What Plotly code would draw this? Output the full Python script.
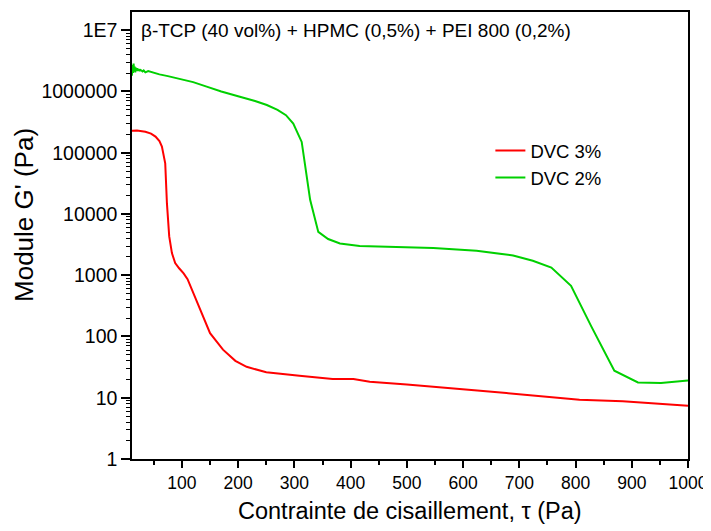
import plotly.graph_objects as go

# DVC 3% (red)
x_dvc3 = [11, 20, 35, 45, 53, 60, 64.4, 68, 70.3, 73.3, 77.4, 82.2, 88, 95, 103, 110,
          124, 137, 150, 173, 195, 215, 250, 309, 368, 405, 434, 500, 570, 620, 677,
          760, 807, 884, 950, 1000]
y_dvc3 = [2.29e5, 2.3e5, 2.2e5, 2.05e5, 1.83e5, 1.55e5, 1.26e5, 9.0e4, 6.7e4, 1.5e4,
          4.3e3, 2.3e3, 1.58e3, 1.3e3, 1.07e3, 860, 425, 210, 113, 61, 40, 32, 26, 22.8,
          20.2, 20.2, 18.2, 16.5, 14.7, 13.2, 11.9, 10.1, 9.3, 8.8, 8.1, 7.4]

# DVC 2% (green)
x_dvc2 = [11, 12, 13, 14, 15, 16, 17, 18, 19, 20, 21, 22, 23, 24, 25, 26, 28, 30, 32,
          35, 40, 50, 60, 75, 90, 100, 120, 144, 170, 203, 230, 251, 270, 285, 298,
          313, 328, 342.5, 360, 381, 416, 547, 624, 689, 724, 757, 792, 828, 869, 911,
          952, 1000]
y_dvc2 = [1.8e6, 2.7e6, 2.0e6, 2.85e6, 2.2e6, 2.55e6, 2.05e6, 2.45e6, 2.2e6, 2.4e6,
          2.15e6, 2.35e6, 2.2e6, 2.3e6, 2.15e6, 2.25e6, 2.2e6, 2.12e6, 2.2e6, 2.05e6,
          2.15e6, 2.0e6, 1.9e6, 1.78e6, 1.64e6, 1.58e6, 1.42e6, 1.2e6, 1.0e6, 8.2e5,
          7.0e5, 6.0e5, 5.0e5, 4.1e5, 3.0e5, 1.5e5, 1.7e4, 5.1e3, 3.9e3, 3.3e3, 3.0e3,
          2.77e3, 2.5e3, 2.1e3, 1.72e3, 1.336e3, 671, 146, 27.6, 17.8, 17.4, 19.2]

y_tickvals = [1, 10, 100, 1000, 10000, 100000, 1000000, 10000000]
y_ticktext = ["1", "10", "100", "1000", "10000", "100000", "1000000", "1E7"]
x_tickvals = [100, 200, 300, 400, 500, 600, 700, 800, 900, 1000]
x_minor = [50, 150, 250, 350, 450, 550, 650, 750, 850, 950]

title_text = "β-TCP (40 vol%) + HPMC (0,5%) + PEI 800 (0,2%)"
x_title = "Contrainte de cisaillement, τ (Pa)"
y_title = "Module G' (Pa)"

FONT = "Liberation Sans, Arial, sans-serif"

# The page body has an 8 px default margin, so the figure is drawn 8 px in.
OFF = 8
W, H = 711 - OFF, 531 - OFF
L, T = 132 - OFF, 12 - OFF
R = W - (688.5 - OFF)
B = H - (459.3 - OFF)
PW = W - L - R
PH = H - T - B


def px_x(p):
    return (p - OFF - L) / PW


def px_y(p):
    return (H - B - (p - OFF)) / PH


y_minor = []
for k in range(0, 8):
    for d in range(2, 10):
        v = d * 10 ** k
        if v < 2e7:
            y_minor.append(v)

fig = go.Figure()
fig.add_trace(go.Scatter(x=x_dvc3, y=y_dvc3, mode="lines", name="DVC 3%",
                         line=dict(color="#FF0000", width=2)))
fig.add_trace(go.Scatter(x=x_dvc2, y=y_dvc2, mode="lines", name="DVC 2%",
                         line=dict(color="#00D000", width=2)))

fig.update_layout(
    width=W, height=H,
    margin=dict(l=L, r=R, t=T, b=B, autoexpand=False),
    paper_bgcolor="white", plot_bgcolor="white",
    font=dict(family=FONT, color="black"),
    showlegend=True,
    legend=dict(x=px_x(490.7), y=px_y(132), xanchor="left", yanchor="top",
                bgcolor="rgba(0,0,0,0)", font=dict(size=18.5, family=FONT),
                borderwidth=0),
    xaxis=dict(
        range=[11.2, 1000], showline=True, linecolor="black", linewidth=1.5,
        mirror=True, showgrid=False, zeroline=False,
        tickmode="array", tickvals=x_tickvals, ticks="outside", ticklen=7,
        tickwidth=1.5, tickcolor="black", tickfont=dict(size=17.5, family=FONT),
        minor=dict(tickmode="array", tickvals=x_minor, ticks="outside", ticklen=4,
                   tickwidth=1.5, tickcolor="black", showgrid=False),
    ),
    yaxis=dict(
        type="log", range=[0, 7.297], showline=True, linecolor="black", linewidth=1.5,
        mirror=True, showgrid=False, zeroline=False,
        tickmode="array", tickvals=y_tickvals, ticktext=y_ticktext, ticks="outside",
        ticklen=9, tickwidth=1.5, tickcolor="black", tickfont=dict(size=19.5, family=FONT),
        minor=dict(tickmode="array", tickvals=y_minor, ticks="outside", ticklen=4,
                   tickwidth=1, tickcolor="black", showgrid=False),
    ),
    annotations=[
        dict(text=title_text, xref="paper", yref="paper", x=px_x(139),
             y=px_y(31), xanchor="left", yanchor="middle", showarrow=False,
             font=dict(size=19, family=FONT)),
        dict(text=x_title, xref="paper", yref="paper", x=0.5, y=px_y(511),
             xanchor="center", yanchor="middle", showarrow=False,
             font=dict(size=23.5, family=FONT)),
        dict(text=y_title, xref="paper", yref="paper", x=px_x(24),
             y=px_y(215), xanchor="center", yanchor="middle", showarrow=False,
             textangle=-90, font=dict(size=26, family=FONT)),
    ],
)

fig.write_html("out.html")
